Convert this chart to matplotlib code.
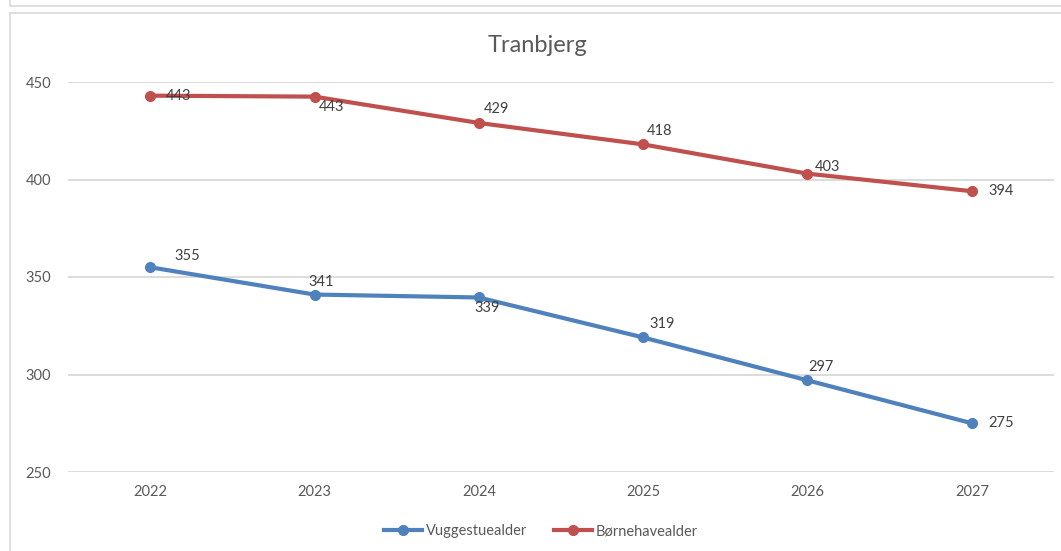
import matplotlib
matplotlib.use("Agg")
import matplotlib.pyplot as plt
from matplotlib.lines import Line2D

years = ["2022", "2023", "2024", "2025", "2026", "2027"]
vuggestue = [355, 341, 339.5, 319, 297, 275]
boernehave = [443, 442.5, 429, 418, 403, 394]
vuggestue_labels = ["355", "341", "339", "319", "297", "275"]
boernehave_labels = ["443", "443", "429", "418", "403", "394"]

# label offsets in pixels (dx, dy), as placed in the original
vugg_off = [(37, 11), (7, 13), (8, -11), (19, 13), (14, 13), (29, 0)]
boern_off = [(28, 0), (17, -10), (18, 14), (16, 13), (20, 7), (29, 0)]

blue = "#4F81BD"
red = "#C0504D"
grid = "#D9D9D9"
txt = "#595959"

plt.rcParams["font.family"] = ["Lato", "DejaVu Sans"]

fig = plt.figure(figsize=(10.61, 5.51), dpi=100)
ax = fig.add_axes([68 / 1061, 1 - 472 / 551, (1054 - 68) / 1061, (472 - 82) / 551])

x = list(range(len(years)))
ax.plot(x, vuggestue, color=blue, lw=3, marker="o", ms=7, label="Vuggestuealder", zorder=3)
ax.plot(x, boernehave, color=red, lw=3, marker="o", ms=7, label="Børnehavealder", zorder=3)

for i in x:
    ax.annotate(vuggestue_labels[i], (i, vuggestue[i]), xytext=vugg_off[i],
                textcoords="offset pixels", ha="center", va="center",
                fontsize=10.5, color="#404040", zorder=4)
    ax.annotate(boernehave_labels[i], (i, boernehave[i]), xytext=boern_off[i],
                textcoords="offset pixels", ha="center", va="center",
                fontsize=10.5, color="#404040", zorder=4)

ax.set_xlim(-0.5, len(years) - 0.5)
ax.set_ylim(250, 450)
ax.set_yticks([250, 300, 350, 400, 450])
ax.set_xticks(x)
ax.set_xticklabels(years)
ax.grid(axis="y", color=grid, lw=1.3)
ax.set_axisbelow(True)
for s in ax.spines.values():
    s.set_visible(False)
ax.tick_params(length=0, labelsize=10.5, labelcolor=txt)
ax.tick_params(axis="y", pad=12)
ax.tick_params(axis="x", pad=9)

fig.text(538 / 1061, 1 - 45 / 551, "Tranbjerg", ha="center", va="center",
         fontsize=17, color=txt)

ax.legend(loc="center", bbox_to_anchor=(541 / 1061, 1 - 531 / 551),
          bbox_transform=fig.transFigure, ncol=2, frameon=False,
          fontsize=10.5, labelcolor=txt, handlelength=2.6, handletextpad=0.3,
          columnspacing=1.8)

# chart frame lines
fig.add_artist(Line2D([10 / 1061, 10 / 1061], [1, 1 - 6 / 551], color=grid, lw=1.2))
fig.add_artist(Line2D([10 / 1061, 1], [1 - 6 / 551, 1 - 6 / 551], color=grid, lw=1.2))
fig.add_artist(Line2D([10 / 1061, 10 / 1061], [0, 1 - 13 / 551], color=grid, lw=1.2))
fig.add_artist(Line2D([10 / 1061, 1], [1 - 13 / 551, 1 - 13 / 551], color=grid, lw=1.2))

fig.savefig("out.png", dpi=100)
